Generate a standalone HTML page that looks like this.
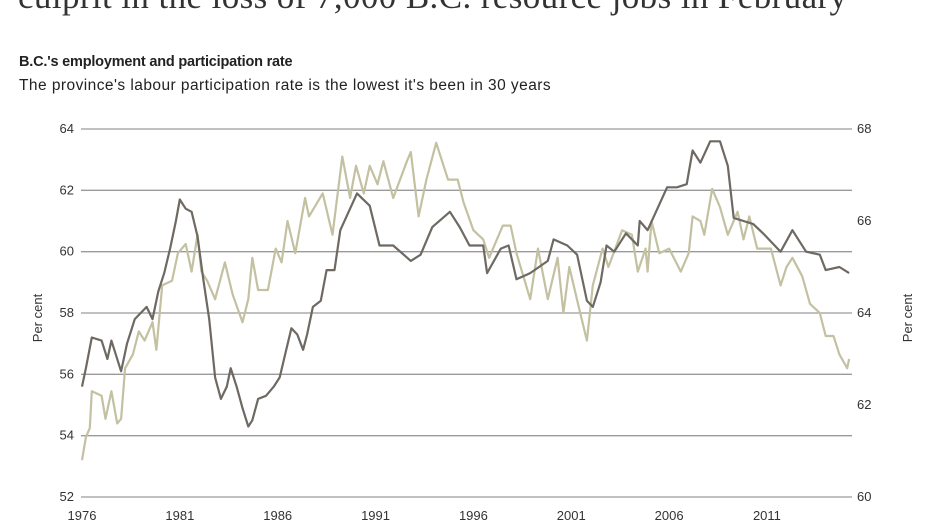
<!DOCTYPE html>
<html><head><meta charset="utf-8"><style>
body{margin:0;width:938px;height:527px;overflow:hidden;background:#fff;font-family:"Liberation Sans",sans-serif;position:relative}
.hl{position:absolute;left:18px;top:-23px;font-family:"Liberation Serif",serif;font-size:35px;color:#333;white-space:nowrap;letter-spacing:0.4px}
.t1{position:absolute;left:19px;top:54px;font-family:"Liberation Sans",sans-serif;font-weight:bold;font-size:14.5px;color:#222;white-space:nowrap;letter-spacing:-0.2px}
.t2{position:absolute;left:19px;top:77px;font-family:"Liberation Sans",sans-serif;font-size:15.5px;color:#222;white-space:nowrap;letter-spacing:0.45px}
svg{position:absolute;left:0;top:0}
svg text{font-family:"Liberation Sans",sans-serif;font-size:13px;fill:#333}
</style></head><body>
<div class="hl">culprit in the loss of 7,000 B.C. resource jobs in February</div>
<div class="t1">B.C.'s employment and participation rate</div>
<div class="t2">The province's labour participation rate is the lowest it's been in 30 years</div>
<svg width="938" height="527">
<g id="grid"></g><g id="lines"></g><g id="labels"></g>
<text x="42" y="318" transform="rotate(-90 42 318)" text-anchor="middle">Per cent</text>
<text x="912" y="318" transform="rotate(-90 912 318)" text-anchor="middle">Per cent</text>
</svg>
<script>
const empYears=[1976,1976.2,1976.5,1977,1977.3,1977.5,1978,1978.3,1978.7,1979,1979.3,1979.6,1979.9,1980.2,1980.5,1980.8,1981,1981.3,1981.6,1981.9,1982.2,1982.5,1982.8,1983.1,1983.4,1983.6,1983.9,1984.2,1984.5,1984.7,1985,1985.4,1985.8,1986.1,1986.4,1986.7,1987,1987.3,1987.5,1987.8,1988.2,1988.5,1988.9,1989.2,1990.05,1990.7,1991.2,1991.9,1992.8,1993.3,1993.9,1994.8,1995.3,1995.8,1996.5,1996.7,1997.4,1997.8,1998.2,1998.9,1999.8,2000.1,2000.8,2001.3,2001.8,2002.1,2002.5,2002.8,2003.2,2003.8,2004.4,2004.5,2004.9,2005.4,2005.9,2006.4,2006.9,2007.2,2007.6,2008.1,2008.6,2009,2009.3,2009.8,2010.3,2010.8,2011.7,2012.3,2013,2013.7,2014,2014.7,2015.2];
const empValues=[55.6,56.2,57.2,57.1,56.5,57.1,56.1,57.0,57.8,58.0,58.2,57.8,58.7,59.3,60.1,61.0,61.7,61.4,61.3,60.5,59.1,57.8,55.9,55.2,55.6,56.2,55.6,54.9,54.3,54.5,55.2,55.3,55.6,55.9,56.7,57.5,57.3,56.8,57.3,58.2,58.4,59.4,59.4,60.7,61.9,61.5,60.2,60.2,59.7,59.9,60.8,61.3,60.8,60.2,60.2,59.3,60.1,60.2,59.1,59.3,59.7,60.4,60.2,59.9,58.4,58.2,59.0,60.2,60.0,60.6,60.2,61.0,60.7,61.4,62.1,62.1,62.2,63.3,62.9,63.6,63.6,62.8,61.1,61.0,60.9,60.6,60.0,60.7,60.0,59.9,59.4,59.5,59.3];
const partYears=[1976,1976.2,1976.4,1976.5,1977,1977.2,1977.5,1977.8,1978,1978.2,1978.6,1978.9,1979.2,1979.6,1979.8,1980.1,1980.6,1980.9,1981.3,1981.6,1981.9,1982.1,1982.4,1982.8,1983.3,1983.7,1984.2,1984.5,1984.7,1985,1985.5,1985.9,1986.2,1986.5,1986.9,1987.4,1987.6,1988.3,1988.8,1989.3,1989.7,1990,1990.4,1990.7,1991.1,1991.4,1991.9,1992.6,1992.8,1993.2,1993.6,1994.1,1994.7,1995.2,1995.5,1996,1996.5,1996.8,1997.5,1997.9,1998.2,1998.9,1999.3,1999.8,2000.3,2000.6,2000.9,2001.4,2001.8,2002.1,2002.6,2002.9,2003.6,2004.1,2004.4,2004.8,2004.9,2005.1,2005.5,2006,2006.6,2007,2007.2,2007.6,2007.8,2008.2,2008.6,2009,2009.5,2009.8,2010.1,2010.5,2011.2,2011.7,2012,2012.3,2012.8,2013.2,2013.7,2014,2014.4,2014.7,2015.1,2015.2];
const partValues=[60.8,61.3,61.5,62.3,62.2,61.7,62.3,61.6,61.7,62.8,63.1,63.6,63.4,63.8,63.2,64.6,64.7,65.3,65.5,64.9,65.7,64.9,64.7,64.3,65.1,64.4,63.8,64.3,65.2,64.5,64.5,65.4,65.1,66.0,65.3,66.5,66.1,66.6,65.7,67.4,66.5,67.2,66.6,67.2,66.8,67.3,66.5,67.3,67.5,66.1,66.9,67.7,66.9,66.9,66.4,65.8,65.6,65.2,65.9,65.9,65.3,64.3,65.4,64.3,65.2,64.0,65.0,64.1,63.4,64.6,65.4,65.0,65.8,65.7,64.9,65.4,64.9,66.0,65.3,65.4,64.9,65.3,66.1,66.0,65.7,66.7,66.3,65.7,66.2,65.6,66.1,65.4,65.4,64.6,65.0,65.2,64.8,64.2,64.0,63.5,63.5,63.1,62.8,63.0];
const leftTicks=[52,54,56,58,60,62,64];
const rightTicks=[60,62,64,66,68];
const yearTicks=[1976,1981,1986,1991,1996,2001,2006,2011];
const NS='http://www.w3.org/2000/svg';
const X=y=>82+(y-1976)*19.57;
const YL=v=>497-(v-52)*(368/12);
const YR=v=>497-(v-60)*(368/8);
function mk(tag,attrs,parent,txt){const e=document.createElementNS(NS,tag);for(const k in attrs)e.setAttribute(k,attrs[k]);if(txt!==undefined)e.textContent=txt;document.getElementById(parent).appendChild(e);return e;}
leftTicks.forEach(t=>{
 const l=mk('line',{x1:81,x2:852,y1:YL(t),y2:YL(t),stroke:'#9a9a9a','stroke-width':1.3},'grid');
 
 
 const tx=mk('text',{x:74,y:YL(t)+4,'text-anchor':'end'},'labels',t);
 
 
});
rightTicks.forEach(t=>{
 const tx=mk('text',{x:857,y:YR(t)+4},'labels',t);
 
 
});
yearTicks.forEach(t=>{
 const tx=mk('text',{x:X(t),y:520,'text-anchor':'middle'},'labels',t);
 
 
});
const pp=partYears.map((y,i)=>X(y).toFixed(1)+','+YR(partValues[i]).toFixed(1)).join(' ');
const pl=mk('polyline',{points:pp,fill:'none',stroke:'#c3c1a1','stroke-width':2.2,'stroke-linejoin':'round'},'lines');


const ep=empYears.map((y,i)=>X(y).toFixed(1)+','+YL(empValues[i]).toFixed(1)).join(' ');
const el=mk('polyline',{points:ep,fill:'none',stroke:'#6e6962','stroke-width':2.2,'stroke-linejoin':'round'},'lines');


</script>
</body></html>
